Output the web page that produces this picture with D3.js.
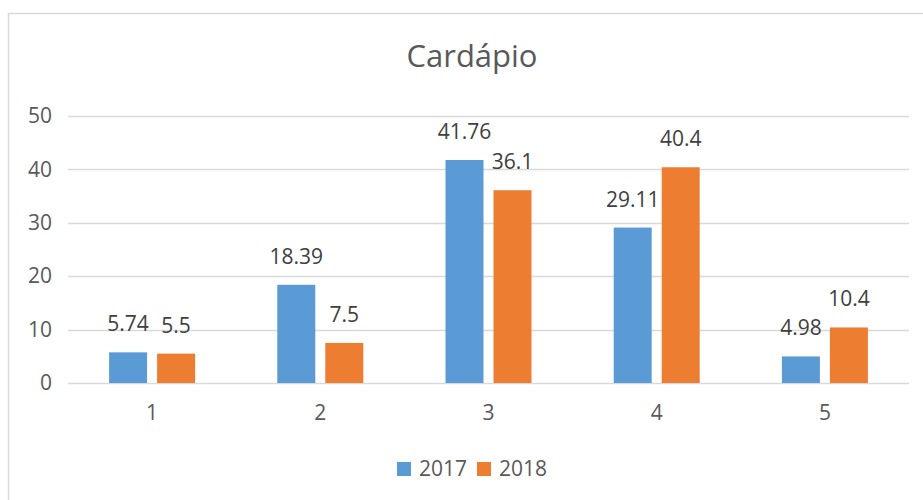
<!DOCTYPE html>
<html>
<head>
<meta charset="utf-8">
<script src="https://cdn.jsdelivr.net/npm/d3@7"></script>
<style>
  html, body { margin: 0; padding: 0; background: #fff; }
  svg { display: block; font-family: "Open Sans", sans-serif; }
</style>
</head>
<body>
<svg id="chart" width="923" height="500"></svg>
<script>
const title = "Cardápio";
const categories = ["1", "2", "3", "4", "5"];
const seriesNames = ["2017", "2018"];
const values2017 = [5.74, 18.39, 41.76, 29.11, 4.98];
const values2018 = [5.5, 7.5, 36.1, 40.4, 10.4];
const labels2017 = ["5.74", "18.39", "41.76", "29.11", "4.98"];
const labels2018 = ["5.5", "7.5", "36.1", "40.4", "10.4"];
const yTicks = [0, 10, 20, 30, 40, 50];
const colors = ["#5B9BD5", "#ED7D31"];

(function () {
const svg = d3.select("#chart");

// chart frame
svg.append("rect")
  .attr("x", 8.5).attr("y", 13.5)
  .attr("width", 940).attr("height", 520)
  .attr("fill", "#fff").attr("stroke", "#D9D9D9").attr("stroke-width", 1.5);

const plotLeft = 68, plotRight = 909, plotTop = 116, plotBottom = 383;

const x = d3.scaleBand().domain(categories).range([plotLeft, plotRight]).paddingInner(0).paddingOuter(0);
const y = d3.scaleLinear().domain([0, 50]).range([plotBottom, plotTop]);

// gridlines
svg.append("g")
  .selectAll("line").data(yTicks).join("line")
  .attr("x1", plotLeft).attr("x2", plotRight)
  .attr("y1", d => Math.round(y(d)) + 0.5).attr("y2", d => Math.round(y(d)) + 0.5)
  .attr("stroke", "#D9D9D9").attr("stroke-width", 1.3);

// y axis labels
const yAxis = d3.axisLeft(y).tickValues(yTicks).tickSize(0).tickPadding(16);
const yg = svg.append("g").attr("transform", `translate(${plotLeft},0)`).call(yAxis);
yg.select(".domain").remove();
yg.selectAll("text").attr("font-size", 21).attr("fill", "#595959")
  .attr("font-family", "Open Sans, sans-serif");

// x axis labels
const xAxis = d3.axisBottom(x).tickSize(0).tickPadding(22);
const xg = svg.append("g").attr("transform", `translate(0,${plotBottom})`).call(xAxis);
xg.select(".domain").remove();
xg.selectAll("text").attr("font-size", 21).attr("fill", "#595959")
  .attr("font-family", "Open Sans, sans-serif");

// bars
const barW = 38, gap = 10;
const series = [values2017, values2018];
const seriesLabels = [labels2017, labels2018];

series.forEach((vals, si) => {
  const g = svg.append("g");
  const offset = x.bandwidth() / 2 - (barW * 2 + gap) / 2 + si * (barW + gap);
  g.selectAll("rect").data(vals).join("rect")
    .attr("x", (d, i) => x(categories[i]) + offset)
    .attr("width", barW)
    .attr("y", d => y(d))
    .attr("height", d => y(0) - y(d))
    .attr("fill", colors[si]);
  g.selectAll("text").data(vals).join("text")
    .attr("x", (d, i) => x(categories[i]) + offset + barW / 2)
    .attr("y", d => y(d) - 21)
    .attr("text-anchor", "middle")
    .attr("font-size", 21)
    .attr("fill", "#404040")
    .text((d, i) => seriesLabels[si][i]);
});

// title
svg.append("text")
  .attr("x", 472).attr("y", 67)
  .attr("text-anchor", "middle")
  .attr("font-size", 31)
  .attr("fill", "#595959")
  .text(title);

// legend
const legend = svg.append("g");
const legendX = [397, 477];
seriesNames.forEach((name, i) => {
  legend.append("rect")
    .attr("x", legendX[i]).attr("y", 462)
    .attr("width", 14).attr("height", 14)
    .attr("fill", colors[i]);
  legend.append("text")
    .attr("x", legendX[i] + 22).attr("y", 476)
    .attr("font-size", 21).attr("fill", "#595959")
    .text(name);
});
})();
</script>
</body>
</html>
